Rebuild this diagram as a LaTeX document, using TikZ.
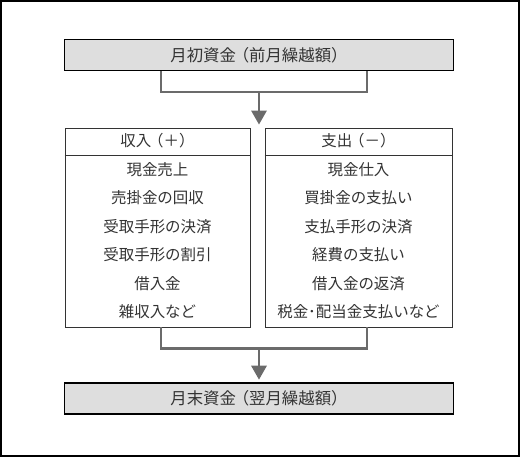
\documentclass[tikz,border=0pt]{standalone}
\usepackage{fontspec}
\setmainfont{Noto Sans CJK JP}
\usetikzlibrary{arrows.meta, calc}
\definecolor{cashfill}{gray}{0.87}
\definecolor{flowgray}{gray}{0.42}
\definecolor{inkgray}{gray}{0.2}
\newcommand{\lparen}{\kern-0.2em（}

\tikzset{
  cashbox/.style={draw=black, line width=1.6pt, fill=cashfill, text=inkgray,
    minimum width=11.67cm, minimum height=0.93cm, inner sep=0pt,
    font=\fontsize{14}{17}\selectfont},
  colbox/.style={draw=black!80, line width=0.8pt, minimum height=5.97cm, inner sep=0pt},
  itemtext/.style={text=inkgray, inner sep=0pt, font=\fontsize{13.2}{15}\selectfont},
  flowline/.style={draw=flowgray, line width=2.2pt},
  flowarrow/.style={flowline, -{Triangle[width=13pt, length=12pt]}}
}

\begin{document}
\begin{tikzpicture}[x=0.03cm, y=-0.03cm]
	\def\lx{157.5}
	\def\rx{358.5}
	\def\rowh{28.5}

	\useasboundingbox (0,0) rectangle (520,457);
	\draw[black, line width=1.5pt] (1,1) rectangle (519,456);

	% --- Opening and closing balance ---
	\node[cashbox] (opening) at (259,55) {月初資金\lparen 前月繰越額）};
	\node[cashbox] (closing) at (259,398.5) {月末資金\lparen 翌月繰越額）};

	% --- Income / expense columns ---
	\node[colbox, minimum width=5.55cm] (inflow)  at (\lx,227.5) {};
	\node[colbox, minimum width=5.61cm] (outflow) at (\rx,227.5) {};
	\coordinate (headline) at (0,155);
	\draw[black!80, line width=0.8pt] (inflow.west |- headline) -- (inflow.east |- headline);
	\draw[black!80, line width=0.8pt] (outflow.west |- headline) -- (outflow.east |- headline);

	\node[itemtext] (in0)  at (\lx,141) {収入\lparen ＋）};
	\node[itemtext] (out0) at (\rx,141) {支出\lparen －）};

	\foreach \txt [count=\i] in {現金売上, 売掛金の回収, 受取手形の決済, 受取手形の割引, 借入金, 雑収入など}
		\node[itemtext] (in\i) at (\lx, {141+\rowh*\i}) {\txt};
	\foreach \txt [count=\i] in {現金仕入, 買掛金の支払い, 支払手形の決済, 経費の支払い, 借入金の返済, 税金･配当金支払いなど}
		\node[itemtext] (out\i) at (\rx, {141+\rowh*\i}) {\txt};

	% --- Flow brackets and arrows ---
	\coordinate (footL) at (161,0);
	\coordinate (footR) at (367,0);
	\coordinate (jointop) at (259,92);
	\coordinate (joinbot) at (259,348.5);

	\draw[flowline] (opening.south -| footL) |- (jointop) -| (opening.south -| footR);
	\draw[flowarrow, shorten >=2.5pt] (jointop) -- (jointop |- inflow.north);

	\draw[flowline] (inflow.south -| footL) |- (joinbot) -| (outflow.south -| footR);
	\draw[flowarrow, shorten >=2pt] (joinbot) -- (closing.north);
\end{tikzpicture}
\end{document}
